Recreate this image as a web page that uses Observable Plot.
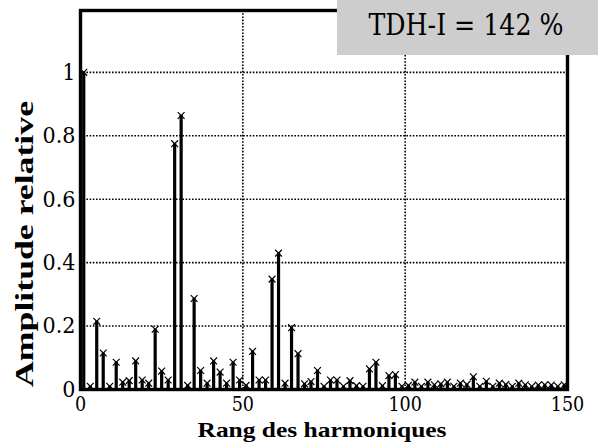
<!DOCTYPE html>
<html><head><meta charset="utf-8">
<script src="https://cdn.jsdelivr.net/npm/d3@7"></script>
<script src="https://cdn.jsdelivr.net/npm/@observablehq/plot@0.6"></script>
<style>body{margin:0;background:#fff}#c{width:598px;height:442px}
#c svg text{font-family:"DejaVu Serif Condensed","DejaVu Serif",serif !important}
#c svg text.bold{font-family:"Liberation Serif","DejaVu Serif",serif !important;font-weight:bold}</style>
</head><body><div id="c"></div>
<script>
const ranks = [1,3,5,7,9,11,13,15,17,19,21,23,25,27,29,31,33,35,37,39,41,43,45,47,49,
  51,53,55,57,59,61,63,65,67,69,71,73,75,77,79,81,83,85,87,89,91,93,95,97,99,
  101,103,105,107,109,111,113,115,117,119,121,123,125,127,129,131,133,135,137,139,141,143,145,147,149];
const amplitudes = [1.0,0.01,0.215,0.115,0.01,0.086,0.023,0.028,0.09,0.03,0.02,0.19,0.058,0.03,0.775,0.864,0.013,0.287,0.06,0.02,0.09,0.055,0.02,0.086,0.03,
  0.013,0.12,0.03,0.03,0.348,0.43,0.02,0.195,0.113,0.018,0.025,0.06,0.01,0.03,0.03,0.01,0.028,0.012,0.01,0.065,0.086,0.012,0.044,0.047,0.01,
  0.013,0.023,0.01,0.023,0.015,0.018,0.023,0.01,0.02,0.016,0.04,0.01,0.026,0.01,0.02,0.016,0.01,0.02,0.015,0.01,0.014,0.015,0.014,0.01,0.015];
const xTicks = [0,50,100,150];
const yTicks = [0,0.2,0.4,0.6,0.8,1];
const xGrid = [50,100];
const yGrid = [0.2,0.4,0.6,0.8,1];
const titleText = "TDH-I = 142 %";
const xLabel = "Rang des harmoniques";
const yLabel = "Amplitude relative";

const data = ranks.map((r,i)=>({rang:r, amp:amplitudes[i]}));

const svg = Plot.plot({
  width:598, height:442,
  marginLeft:80, marginRight:31, marginTop:10, marginBottom:53,
  style:{background:"#fff", color:"#000"},
  x:{domain:[0,150]},
  y:{domain:[0,1.195]},
  marks:[
    Plot.ruleY(yGrid,{stroke:"#000",strokeWidth:1.6,strokeDasharray:"1.6,1.6"}),
    Plot.ruleX(xGrid,{stroke:"#000",strokeWidth:1.6,strokeDasharray:"1.6,1.6"}),
    Plot.ruleX(data,{x:"rang",y1:0,y2:"amp",stroke:"#000",strokeWidth:3.2}),
    Plot.dot(data,{x:"rang",y:"amp",symbol:"times",r:3.2,stroke:"#000",strokeWidth:1.2}),
    Plot.frame({stroke:"#000",strokeWidth:3.4}),
    Plot.axisX(xTicks,{tickSize:0,tickPadding:8,fontSize:19.5,label:null}),
    Plot.axisY(yTicks,{tickSize:0,tickPadding:5,fontSize:23,label:null,tickFormat:d=>String(d)})
  ]
});
document.getElementById("c").appendChild(svg);

const s = d3.select(svg);
const g = s.append("g");
g.append("rect").attr("x",337).attr("y",0).attr("width",261).attr("height",55).attr("fill","#cdcdcd");
g.append("text").attr("x",466).attr("y",35).attr("text-anchor","middle")
  .attr("font-size",30).attr("fill","#000")
  .attr("textLength",195).attr("lengthAdjust","spacingAndGlyphs").text(titleText);
s.append("text").attr("class","bold").attr("x",322).attr("y",437).attr("text-anchor","middle")
  .attr("font-size",22)
  .attr("textLength",249).attr("lengthAdjust","spacingAndGlyphs").text(xLabel);
s.append("text").attr("class","bold").attr("transform","translate(33,244) rotate(-90)").attr("text-anchor","middle")
  .attr("font-size",26)
  .attr("textLength",286).attr("lengthAdjust","spacingAndGlyphs").text(yLabel);
</script></body></html>
